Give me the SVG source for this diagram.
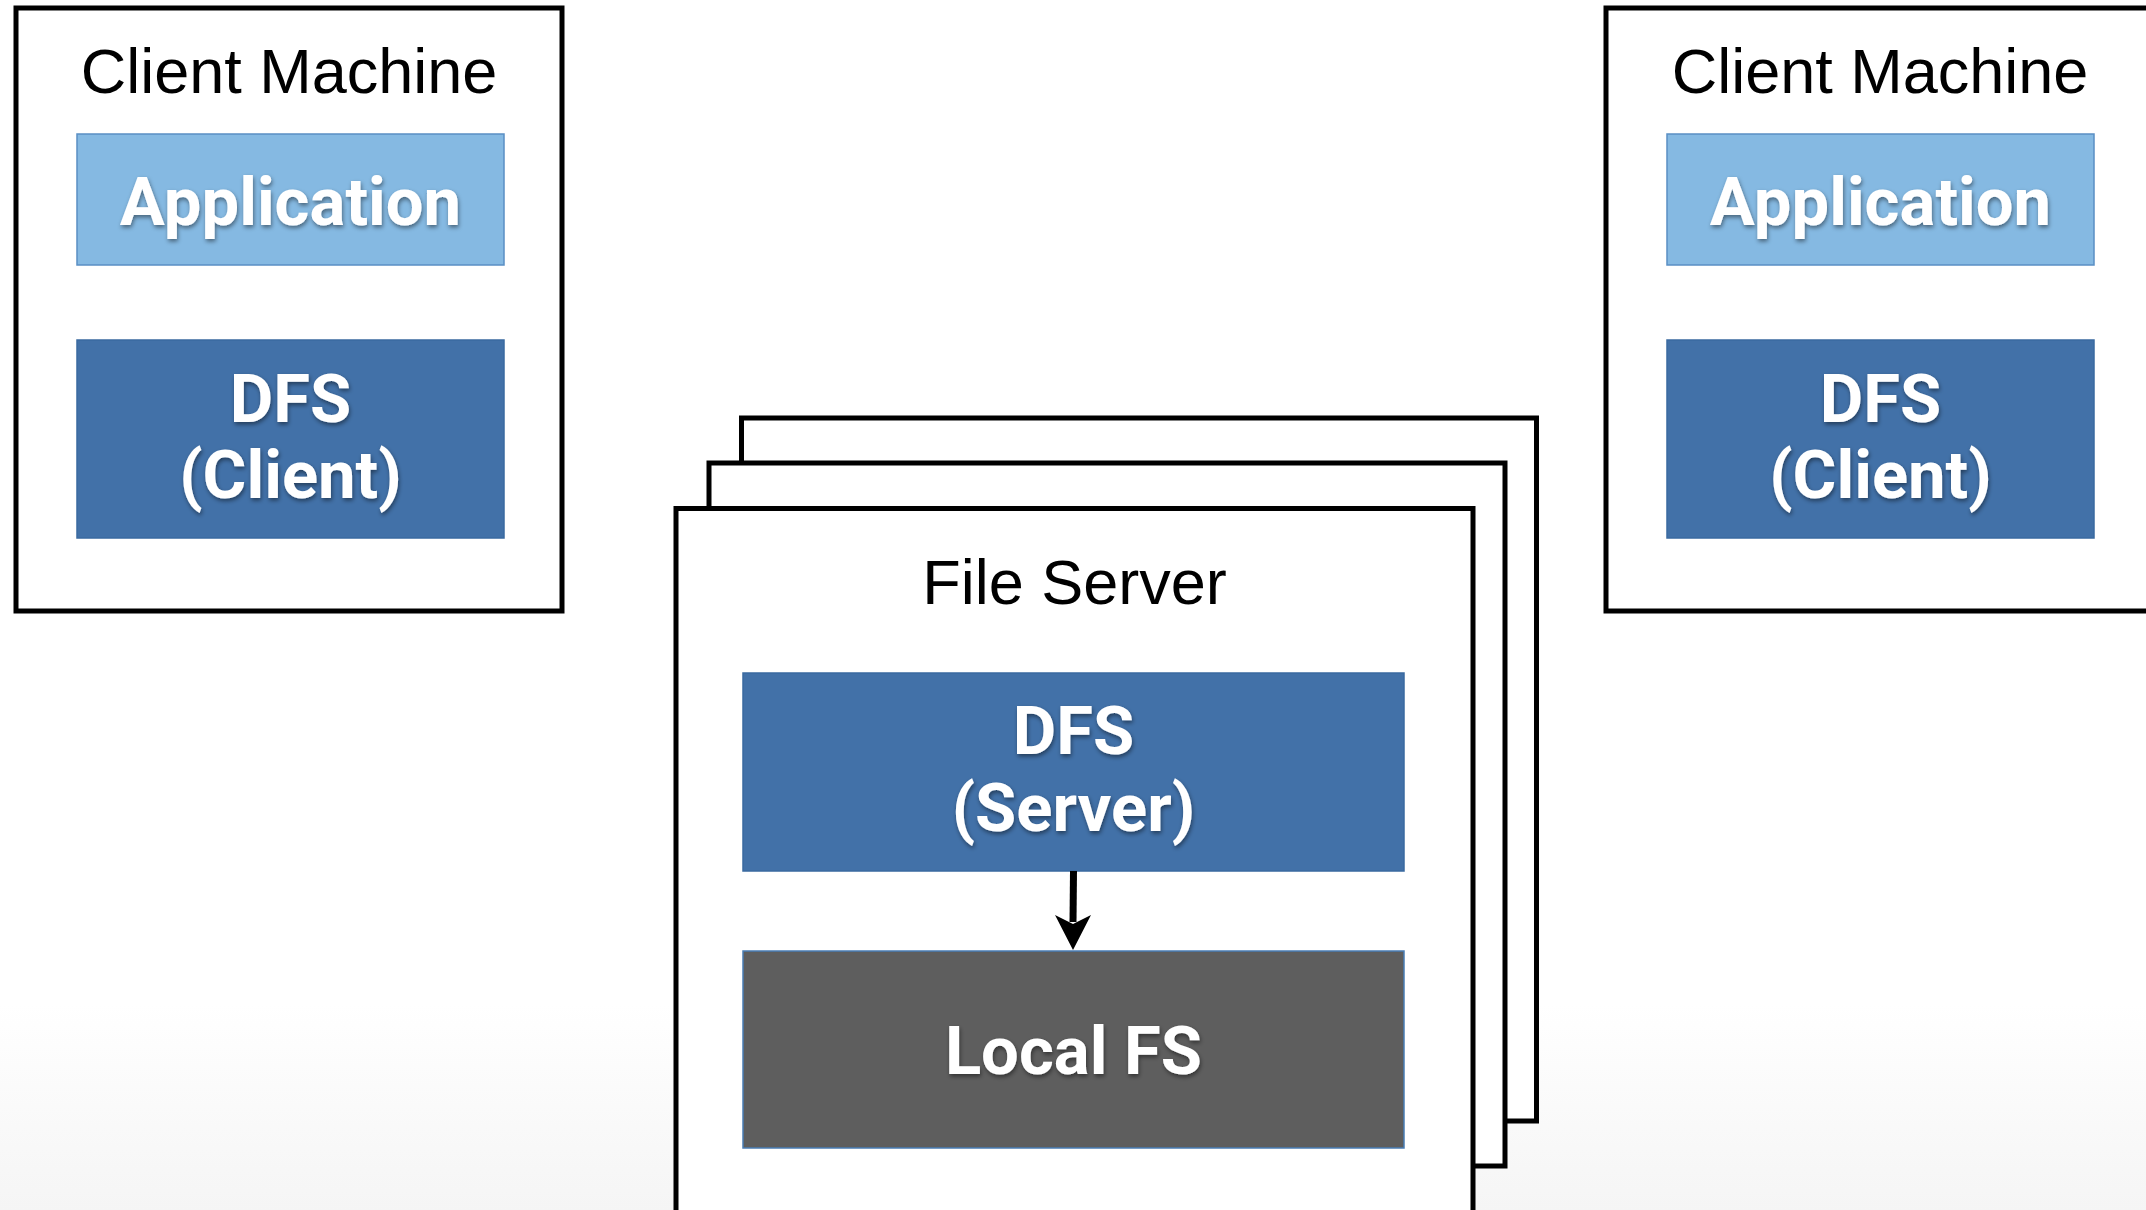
<svg xmlns="http://www.w3.org/2000/svg" width="2146" height="1210" viewBox="0 0 2146 1210">
<defs>
<linearGradient id="bg" x1="0" y1="0" x2="0" y2="1">
<stop offset="0" stop-color="#ffffff"/>
<stop offset="0.83" stop-color="#ffffff"/>
<stop offset="1" stop-color="#f5f5f5"/>
</linearGradient>
<filter id="sh" x="-10%" y="-20%" width="120%" height="150%">
<feDropShadow dx="1" dy="2.5" stdDeviation="2.2" flood-color="#000" flood-opacity="0.45"/>
</filter>
</defs>
<style>
.frame{fill:#fff;stroke:#000;stroke-width:5}
.title{font-family:"Liberation Sans",Arial,sans-serif;font-size:63px;fill:#000;text-anchor:middle}
.app{fill:#85b9e2;stroke:#5a8fc4;stroke-width:1.5}
.dfs{fill:#4271a8;stroke:#3a6aa0;stroke-width:1.5}
.local{fill:#5e5e5e;stroke:#4a7eb5;stroke-width:1.5}
.lbl{font-family:Roboto,"Liberation Sans",Arial,sans-serif;font-weight:bold;font-size:67px;fill:#fff;text-anchor:middle;filter:url(#sh)}
</style>
<rect x="0" y="0" width="2146" height="1210" fill="url(#bg)"/>

<g id="client-left">
<rect class="frame" x="16" y="8" width="546" height="603"/>
<text class="title" x="289" y="93">Client Machine</text>
<g id="app-left">
<rect class="app" x="77" y="134" width="427" height="131"/>
<text class="lbl" x="290.5" y="225">Application</text>
</g>
<g id="dfs-client-left">
<rect class="dfs" x="77" y="340" width="427" height="198"/>
<text class="lbl" x="290.5" y="422">DFS</text>
<text class="lbl" x="290.5" y="498">(Client)</text>
</g>
</g>

<g id="client-right">
<rect class="frame" x="1606" y="8" width="546" height="603"/>
<text class="title" x="1880" y="93">Client Machine</text>
<g id="app-right">
<rect class="app" x="1667" y="134" width="427" height="131"/>
<text class="lbl" x="1880.5" y="225">Application</text>
</g>
<g id="dfs-client-right">
<rect class="dfs" x="1667" y="340" width="427" height="198"/>
<text class="lbl" x="1880.5" y="422">DFS</text>
<text class="lbl" x="1880.5" y="498">(Client)</text>
</g>
</g>

<g id="file-server">
<rect class="frame" x="741.5" y="418" width="795" height="703"/>
<rect class="frame" x="709" y="463" width="796" height="703"/>
<rect class="frame" x="676" y="508.5" width="797" height="712"/>
<text class="title" x="1074.5" y="604">File Server</text>
<g id="dfs-server">
<rect class="dfs" x="743" y="673" width="661" height="198"/>
<text class="lbl" x="1073.5" y="754">DFS</text>
<text class="lbl" x="1073.5" y="831">(Server)</text>
</g>
<g id="local-fs">
<rect class="local" x="743" y="951" width="661" height="197"/>
<text class="lbl" x="1073.5" y="1074">Local FS</text>
</g>
</g>

<g id="connectors">
<line x1="1073.5" y1="871" x2="1073" y2="922" stroke="#000" stroke-width="7"/>
<polygon points="1055,915 1073,924 1091,915 1073,950" fill="#000"/>
</g>
</svg>
